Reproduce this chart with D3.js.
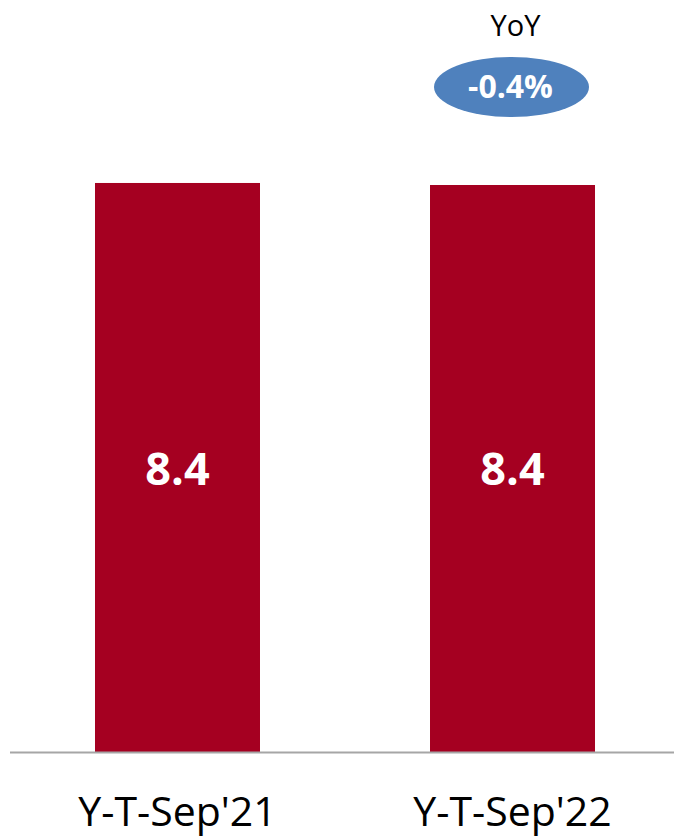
<!DOCTYPE html>
<html>
<head>
<meta charset="utf-8">
<script src="https://cdn.jsdelivr.net/npm/d3@7"></script>
<style>
  html, body { margin: 0; padding: 0; background: #fff; }
  svg { display: block; }
  text { font-family: "Open Sans", "Noto Sans", sans-serif; }
</style>
</head>
<body>
<div id="chart"></div>
<script>
// Data
const categories = ["Y-T-Sep'21", "Y-T-Sep'22"];
const values = [8.43, 8.40];
const valueLabels = ["8.4", "8.4"];
const yoyTitle = "YoY";
const yoyLabel = "-0.4%";

const W = 674, H = 839;
const baseY = 752;

const svg = d3.select("#chart").append("svg")
  .attr("width", W).attr("height", H);

const x = d3.scaleBand()
  .domain(categories)
  .range([16, 674])
  .paddingInner(0.5075)
  .paddingOuter(0.2358);

const y = d3.scaleLinear()
  .domain([0, 10])
  .range([baseY, baseY - 675]);

// bars
svg.selectAll("rect.bar")
  .data(categories)
  .join("rect")
  .attr("class", "bar")
  .attr("x", d => x(d))
  .attr("width", x.bandwidth())
  .attr("y", (d, i) => y(values[i]))
  .attr("height", (d, i) => y(0) - y(values[i]))
  .attr("fill", "#A50021");

// baseline
svg.append("line")
  .attr("x1", 10).attr("x2", W)
  .attr("y1", baseY + 0.5).attr("y2", baseY + 0.5)
  .attr("stroke", "#A6A6A6").attr("stroke-width", 2);

// value labels
svg.selectAll("text.val")
  .data(categories)
  .join("text")
  .attr("class", "val")
  .attr("x", d => x(d) + x.bandwidth() / 2)
  .attr("y", 485)
  .attr("text-anchor", "middle")
  .attr("fill", "#fff")
  .attr("font-weight", "bold")
  .attr("font-size", 45)
  .text((d, i) => valueLabels[i]);

// category axis labels
const xAxis = d3.axisBottom(x).tickSize(0).tickPadding(0);
const gx = svg.append("g")
  .attr("transform", `translate(0, ${baseY})`)
  .call(xAxis);
gx.select(".domain").remove();
gx.selectAll("text")
  .attr("dy", 0)
  .attr("y", 826 - baseY)
  .attr("font-size", 41)
  .attr("fill", "#000")
  .style("font-family", "'Open Sans', 'Noto Sans', sans-serif");

// YoY bubble
const cx = x(categories[1]) + x.bandwidth() / 2 - 1;
svg.append("text")
  .attr("x", cx + 4).attr("y", 36)
  .attr("text-anchor", "middle")
  .attr("font-size", 29)
  .attr("fill", "#000")
  .text(yoyTitle);

svg.append("ellipse")
  .attr("cx", cx).attr("cy", 87)
  .attr("rx", 77.5).attr("ry", 30)
  .attr("fill", "#4F81BD");

svg.append("text")
  .attr("x", cx - 1).attr("y", 98)
  .attr("text-anchor", "middle")
  .attr("font-size", 32)
  .attr("font-weight", "bold")
  .attr("fill", "#fff")
  .text(yoyLabel);
</script>
</body>
</html>
